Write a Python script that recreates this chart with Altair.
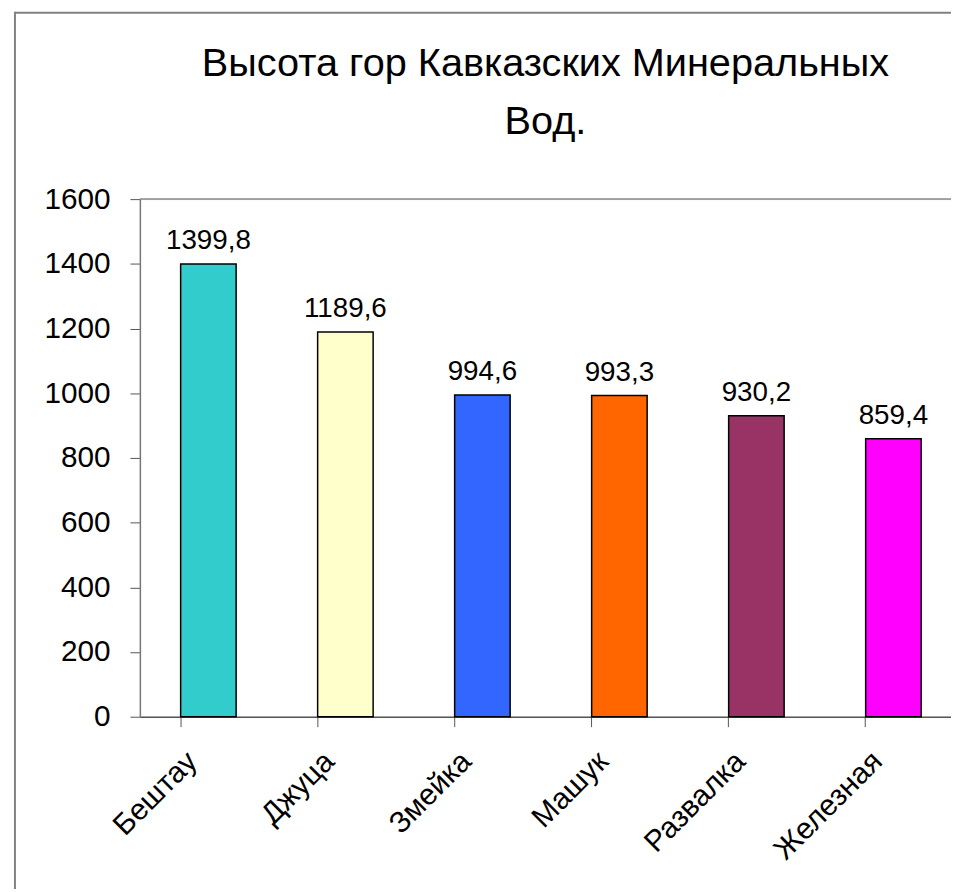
import altair as alt
import pandas as pd

names = ["Бештау", "Джуца", "Змейка", "Машук", "Развалка", "Железная"]
heights = [1399.8, 1189.6, 994.6, 993.3, 930.2, 859.4]
colors = ["#33CCCC", "#FFFFCC", "#3366FF", "#FF6600", "#993366", "#FF00FF"]
labels = [f"{v:.1f}".replace(".", ",") for v in heights]
y_ticks = [0, 200, 400, 600, 800, 1000, 1200, 1400, 1600]
title_lines = ["Высота гор Кавказских Минеральных", "Вод."]

df = pd.DataFrame({"name": names, "h": heights, "lab": labels})

W, H = 818, 522
xscale = alt.Scale(domain=names, range=[0, 829], paddingInner=0.595, paddingOuter=0.2975)
yscale = alt.Scale(domain=[0, 1600], nice=False)

base = alt.Chart(df)

bars = base.mark_bar(stroke="black", strokeWidth=1.5).encode(
    x=alt.X("name:N", scale=xscale, sort=names, title=None,
            axis=alt.Axis(labelAngle=-45, labelAlign="right", labelBaseline="middle",
                          labelFont="Liberation Sans", labelFontSize=30, labelColor="black",
                          bandPosition=0, labelOffset=-16, labelPadding=30,
                          tickSize=10, tickColor="#555555", domainColor="#555555",
                          domainWidth=1.5, tickWidth=1)),
    y=alt.Y("h:Q", scale=yscale, title=None,
            axis=alt.Axis(values=y_ticks, format="d", grid=False, labelFont="Liberation Sans",
                          labelFontSize=30, labelColor="black", labelPadding=20,
                          tickSize=10, tickColor="#555555", domainColor="#777777",
                          domainWidth=1.5)),
    color=alt.Color("name:N", scale=alt.Scale(domain=names, range=colors), legend=None),
)

text = base.mark_text(font="Liberation Sans", fontSize=28, color="black",
                      baseline="alphabetic", dy=-15).encode(
    x=alt.X("name:N", scale=xscale, sort=names),
    y=alt.Y("h:Q", scale=yscale),
    text="lab:N",
)

title_df = pd.DataFrame({"t": ["\n".join(title_lines)]})
title = alt.Chart(title_df).mark_text(
    font="Liberation Sans", fontSize=40, color="black", align="center",
    baseline="alphabetic", lineBreak="\n", lineHeight=58,
).encode(x=alt.value(409), y=alt.value(-124), text="t:N")

one = alt.Chart(pd.DataFrame({"a": [0]}))
top_border = one.mark_rule(color="#888888", strokeWidth=1.5).encode(
    y=alt.datum(1600, scale=yscale))
frame_left = one.mark_rule(color="#808080", strokeWidth=2).encode(
    x=alt.value(-126), y=alt.value(-189), y2=alt.value(720))
frame_top = one.mark_rule(color="#808080", strokeWidth=2).encode(
    y=alt.value(-188), x=alt.value(-126), x2=alt.value(830))

chart = alt.layer(bars, text, title, top_border, frame_left, frame_top).properties(
    width=W, height=H,
    autosize=alt.AutoSizeParams(type="none"),
    padding={"left": 133, "top": 189, "right": 0, "bottom": 170},
).configure_view(fill="#cddcf4", stroke=None).configure(background="white")

chart.save("out.html", embed_options={"renderer": "svg", "actions": False})
